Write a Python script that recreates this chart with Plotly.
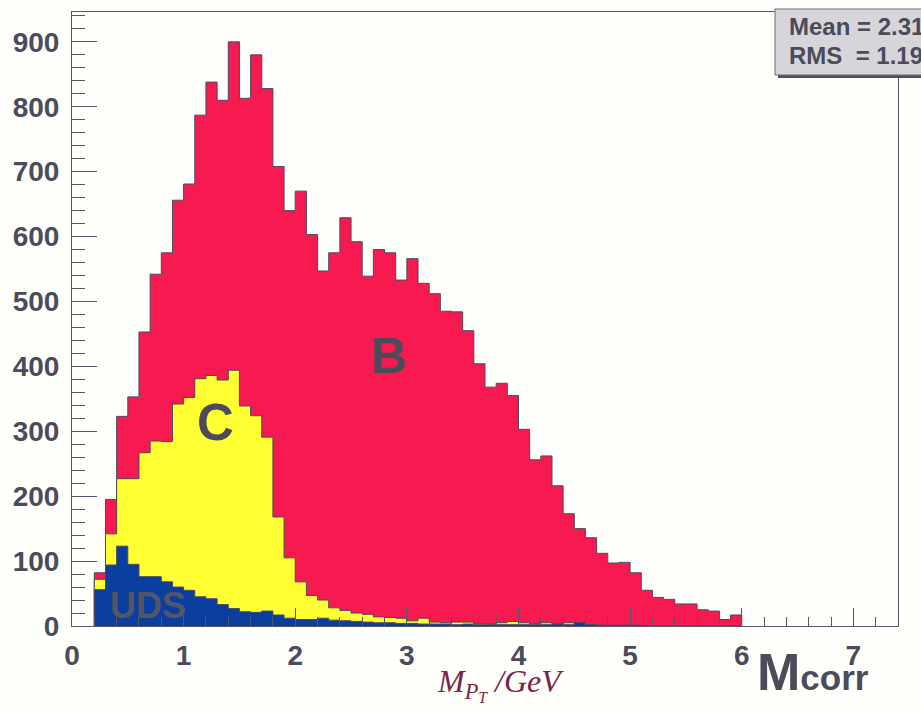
import numpy as np
import plotly.graph_objects as go

# ---- data (bins of width 0.1 starting at 0.2 GeV) ----
bin_start = 0.2
bin_width = 0.1

b_total = [82, 195, 323, 353, 453, 542, 575, 656, 681, 787,
           838, 810, 900, 813, 880, 828, 708, 640, 670, 603,
           547, 575, 629, 592, 539, 580, 575, 533, 566, 528,
           512, 485, 484, 455, 404, 368, 374, 355, 303, 256,
           262, 216, 173, 150, 136, 112, 97, 98, 82, 55,
           44, 41, 34, 34, 25, 23, 10, 17]

c_vals = [72, 142, 227, 227, 267, 285, 284, 342, 352, 381,
          386, 379, 394, 339, 324, 291, 168, 105, 68, 47,
          40, 28, 24, 20, 18, 14, 13, 12, 8, 12,
          6, 5, 6, 6, 4, 3, 5, 7, 5, 3,
          5, 3, 5, 4, 2, 1, 1, 1, 1, 0,
          0, 0, 0, 0, 0, 0, 0, 0]

uds_vals = [56, 94, 123, 95, 76, 76, 68, 60, 55, 45,
            42, 33, 27, 22, 21, 23, 17, 12, 10, 10,
            12, 9, 8, 7, 6, 5, 5, 4, 4, 3,
            3, 3, 2, 3, 2, 2, 2, 2, 2, 2,
            2, 3, 2, 5, 2, 1, 1, 1, 1, 0,
            0, 0, 0, 0, 0, 0, 0, 0]

labels = ["B", "C", "UDS"]
x_ticks = [0, 1, 2, 3, 4, 5, 6, 7]
y_ticks = [0, 100, 200, 300, 400, 500, 600, 700, 800, 900]

# ---- style ----
RED = "#f61a50"
YELLOW = "#ffff33"
BLUE = "#0a3fa0"
OUTLINE = "#4a4a5e"
TEXT = "#4b4b5c"
BG = "#fefefa"
FONT = "Liberation Sans"

L, R, T, B = 72, 23, 12, 85
W, H = 921, 711
PW, PH = W - L - R, H - T - B


def px(xp):
    return (xp - L) / PW


def py(yp):
    return (H - B - yp) / PH


n = len(b_total)
lows = bin_start + bin_width * np.arange(n)
end = bin_start + bin_width * n


def hist_trace(vals, color):
    xs = [bin_start] + list(lows) + [end]
    ys = [0] + list(vals) + [0]
    return go.Scatter(x=xs, y=ys, mode="lines", line_shape="hv",
                      line=dict(color=OUTLINE, width=1),
                      fill="tozeroy", fillcolor=color,
                      hoverinfo="skip", showlegend=False)


fig = go.Figure()
fig.add_trace(hist_trace(b_total, RED))
fig.add_trace(hist_trace(c_vals, YELLOW))
fig.add_trace(hist_trace(uds_vals, BLUE))

axis_common = dict(showgrid=False, zeroline=False, showline=True,
                   linecolor="#55556a", linewidth=1, mirror=True,
                   ticks="inside", tickcolor="#55556a", tickwidth=1,
                   tickfont=dict(family=FONT, size=28, color=TEXT, weight="bold"))

fig.update_xaxes(range=[0, 7.4], tickvals=x_ticks, ticklen=18,
                 minor=dict(dtick=0.2, tick0=0, ticks="inside", ticklen=9,
                            tickcolor="#55556a", tickwidth=1),
                 ticklabelstandoff=4, **axis_common)
fig.update_yaxes(range=[0, 946], tickvals=y_ticks, ticklen=25,
                 minor=dict(dtick=20, tick0=0, ticks="inside", ticklen=13,
                            tickcolor="#55556a", tickwidth=1),
                 ticklabelstandoff=6, **axis_common)

# category labels
fig.add_annotation(x=2.84, y=416, text=labels[0], showarrow=False,
                   font=dict(family=FONT, size=50, color=TEXT, weight="bold"))
fig.add_annotation(x=1.29, y=314, text=labels[1], showarrow=False,
                   font=dict(family=FONT, size=51, color=TEXT, weight="bold"))
fig.add_annotation(x=0.68, y=32, text=labels[2], showarrow=False,
                   font=dict(family=FONT, size=36, color="#55556a", weight="bold"))

# stats box (runs off the right edge of the picture)
fig.add_shape(type="rect", xref="paper", yref="paper",
              x0=px(778), x1=px(1100), y0=py(78), y1=py(12),
              fillcolor="#50505e", line=dict(width=0), layer="above")
fig.add_shape(type="rect", xref="paper", yref="paper",
              x0=px(775), x1=px(1100), y0=py(75), y1=py(9),
              fillcolor="#d6d6da", line=dict(color="#6a6a78", width=1), layer="above")
fig.add_annotation(xref="paper", yref="paper", x=px(787), y=py(26),
                   xanchor="left", yanchor="middle", showarrow=False,
                   text="Mean = 2.31",
                   font=dict(family=FONT, size=24, color=TEXT, weight="bold"))
fig.add_annotation(xref="paper", yref="paper", x=px(787), y=py(55),
                   xanchor="left", yanchor="middle", showarrow=False,
                   text="RMS\u00a0\u00a0= 1.19",
                   font=dict(family=FONT, size=24, color=TEXT, weight="bold"))

# axis title (printed) and handwritten note
fig.add_annotation(xref="paper", yref="paper", x=px(755), y=py(672),
                   xanchor="left", yanchor="middle", showarrow=False,
                   text="M<span style='font-size:35px'>corr</span>",
                   font=dict(family=FONT, size=52, color=TEXT, weight="bold"))
fig.add_annotation(xref="paper", yref="paper", x=px(435), y=py(684),
                   xanchor="left", yanchor="middle", showarrow=False,
                   text="<i>M<sub>P<sub>T</sub></sub> /GeV</i>",
                   font=dict(family="Liberation Serif", size=32, color="#7a2545"))

fig.update_layout(width=W, height=H,
                  margin=dict(l=L, r=R, t=T, b=B, pad=0),
                  paper_bgcolor=BG, plot_bgcolor=BG,
                  showlegend=False)

fig.write_html("out.html")
